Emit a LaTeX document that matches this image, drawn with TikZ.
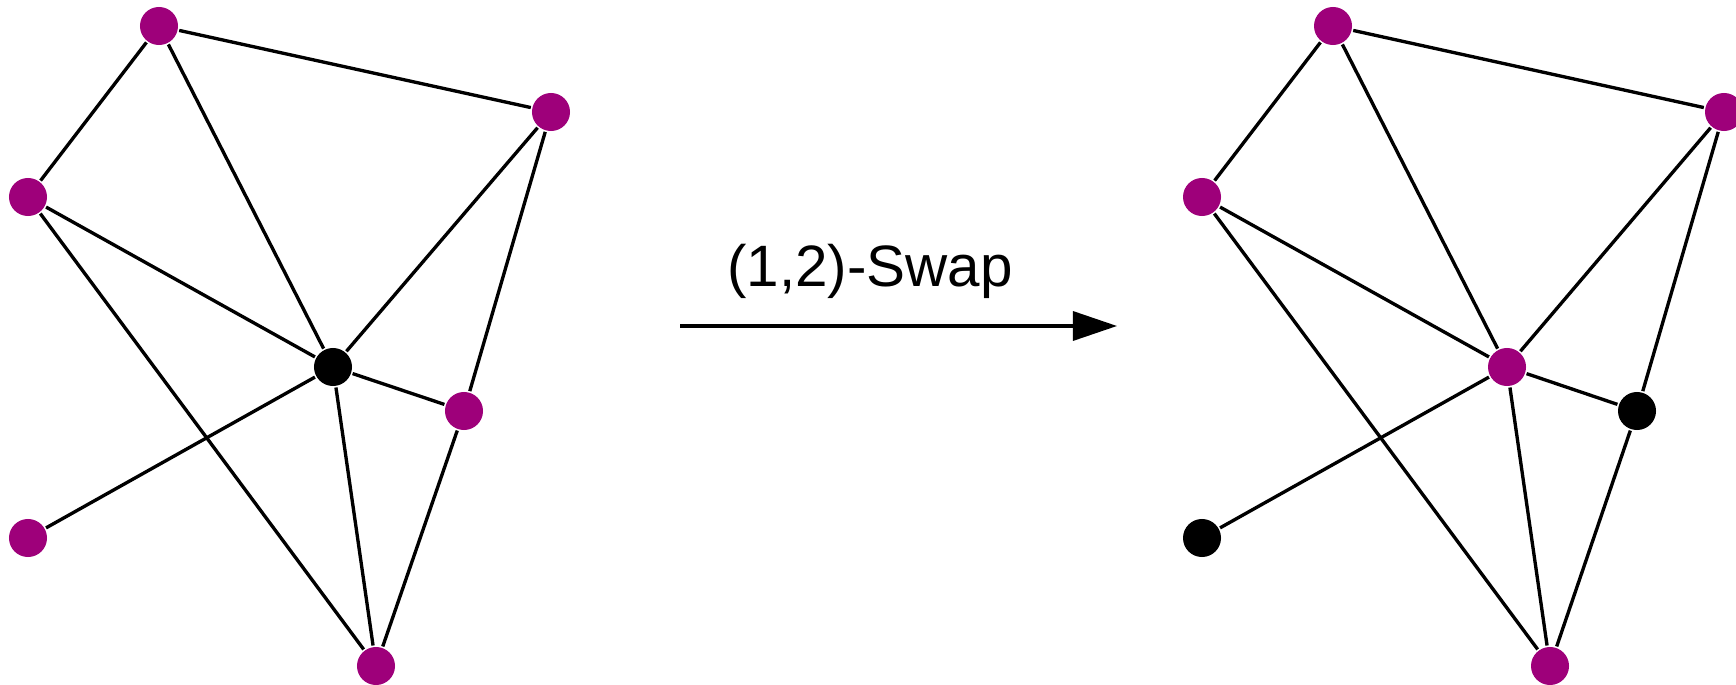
\documentclass[tikz,border=0pt]{standalone}
\usepackage{fontspec}
\setmainfont{Liberation Sans}
\usetikzlibrary{arrows.meta}
\definecolor{vertexpurple}{RGB}{158,0,122}

\begin{document}
\begin{tikzpicture}[
        x=0.01cm, y=-0.01cm,
        every path/.style={line width=0.95pt}
    ]
    \tikzstyle{colored} = [
        circle,
        inner sep = 0pt,
        minimum size = 0.38cm,
        fill = vertexpurple
    ]
    \tikzstyle{swapped} = [
        circle,
        inner sep = 0pt,
        minimum size = 0.38cm,
        fill = black
    ]
    \tikzstyle{edge} = [draw=black]

    \useasboundingbox (0,0) rectangle (1736,685);

    % before the swap
    \node [colored] (la) at (159,26) {};
    \node [colored] (lb) at (551,112) {};
    \node [colored] (lc) at (28,197) {};
    \node [swapped] (ld) at (333,367) {};
    \node [colored] (le) at (464,411) {};
    \node [colored] (lf) at (28,538) {};
    \node [colored] (lg) at (376,666) {};

    \draw [edge] (la) -- (lb);
    \draw [edge] (la) -- (lc);
    \draw [edge] (la) -- (ld);
    \draw [edge] (lb) -- (ld);
    \draw [edge] (lb) -- (le);
    \draw [edge] (lc) -- (ld);
    \draw [edge] (lc) -- (lg);
    \draw [edge] (ld) -- (le);
    \draw [edge] (ld) -- (lf);
    \draw [edge] (ld) -- (lg);
    \draw [edge] (le) -- (lg);

    % the swap
    \coordinate (from) at (680,326);
    \coordinate (to) at (1117,326);
    \draw [-{Triangle[length=0.44cm,width=0.29cm]}] (from) -- (to);
    \node [anchor=base, inner sep=0pt, font=\fontsize{16.6}{20}\selectfont]
        (swaplabel) at (870,287) {(1,2)-Swap};

    % after the swap
    \node [colored] (ra) at (1333,26) {};
    \node [colored] (rb) at (1724,112) {};
    \node [colored] (rc) at (1202,197) {};
    \node [colored] (rd) at (1507,367) {};
    \node [swapped] (re) at (1637,411) {};
    \node [swapped] (rf) at (1202,538) {};
    \node [colored] (rg) at (1550,666) {};

    \draw [edge] (ra) -- (rb);
    \draw [edge] (ra) -- (rc);
    \draw [edge] (ra) -- (rd);
    \draw [edge] (rb) -- (rd);
    \draw [edge] (rb) -- (re);
    \draw [edge] (rc) -- (rd);
    \draw [edge] (rc) -- (rg);
    \draw [edge] (rd) -- (re);
    \draw [edge] (rd) -- (rf);
    \draw [edge] (rd) -- (rg);
    \draw [edge] (re) -- (rg);
\end{tikzpicture}
\end{document}
